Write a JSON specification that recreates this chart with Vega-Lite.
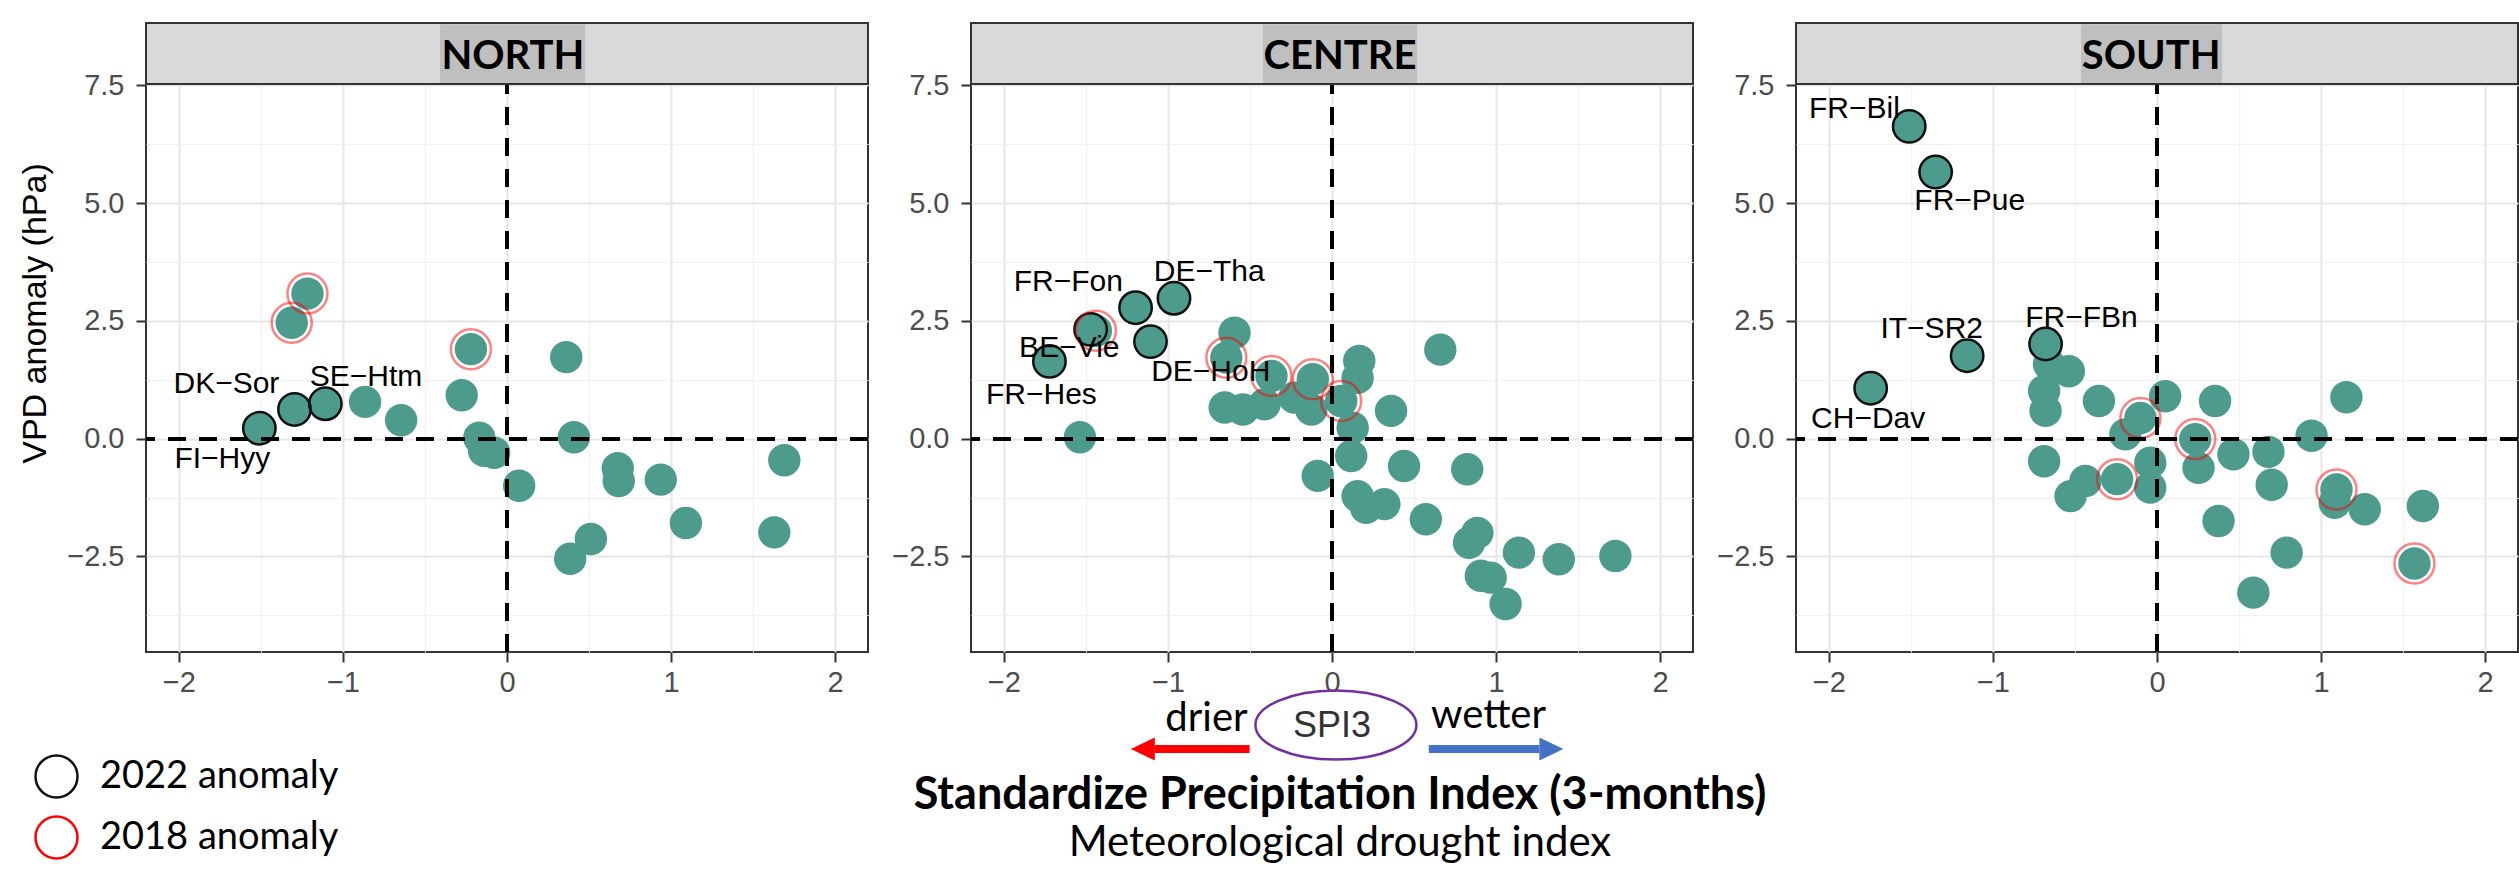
{
  "$schema": "https://vega.github.io/schema/vega-lite/v6.json",
  "background": "white",
  "padding": {"left": 17, "top": 21, "right": 0, "bottom": 0},
  "config": {
    "font": "Liberation Sans",
    "view": {"stroke": "#333333", "strokeWidth": 2},
    "axis": {
      "labelFont": "Liberation Sans",
      "labelFontSize": 29,
      "labelColor": "#4d4d4d",
      "tickColor": "#333333",
      "tickWidth": 2,
      "tickSize": 10,
      "domain": false,
      "gridColor": "#e6e6e6",
      "gridWidth": 2,
      "titleFont": "Liberation Sans",
      "titleFontSize": 34,
      "titleFontWeight": "normal",
      "titleColor": "#000000"
    },
    "axisX": {"labelPadding": 6},
    "axisY": {"labelPadding": 12},
    "legend": {
      "labelFont": "Lato",
      "labelFontSize": 38,
      "labelColor": "#000000",
      "labelLimit": 600,
      "symbolSize": 1764,
      "symbolStrokeWidth": 2.5,
      "symbolType": "circle",
      "symbolOpacity": 1,
      "labelOffset": 21,
      "rowPadding": 8,
      "padding": 0
    }
  },
  "datasets": {
    "regions": [
      {"region": "NORTH"},
      {"region": "CENTRE"},
      {"region": "SOUTH"}
    ],
    "sites": [
      {"region": "NORTH", "spi": -1.509, "vpd": 0.22, "highlight": "2022 anomaly", "site": "FI−Hyy", "label_spi": -1.735, "label_vpd": -0.43},
      {"region": "NORTH", "spi": -1.295, "vpd": 0.62, "highlight": "2022 anomaly", "site": "DK−Sor", "label_spi": -1.71, "label_vpd": 1.15},
      {"region": "NORTH", "spi": -1.107, "vpd": 0.74, "highlight": "2022 anomaly", "site": "SE−Htm", "label_spi": -0.859, "label_vpd": 1.3},
      {"region": "NORTH", "spi": -1.216, "vpd": 3.08, "highlight": "2018 anomaly"},
      {"region": "NORTH", "spi": -1.312, "vpd": 2.46, "highlight": "2018 anomaly"},
      {"region": "NORTH", "spi": -0.22, "vpd": 1.9, "highlight": "2018 anomaly"},
      {"region": "NORTH", "spi": -0.865, "vpd": 0.78},
      {"region": "NORTH", "spi": -0.645, "vpd": 0.39},
      {"region": "NORTH", "spi": -0.276, "vpd": 0.92},
      {"region": "NORTH", "spi": -0.169, "vpd": 0.02},
      {"region": "NORTH", "spi": -0.139, "vpd": -0.26},
      {"region": "NORTH", "spi": -0.078, "vpd": -0.3},
      {"region": "NORTH", "spi": 0.074, "vpd": -1.0},
      {"region": "NORTH", "spi": 0.361, "vpd": 1.73},
      {"region": "NORTH", "spi": 0.408, "vpd": 0.03},
      {"region": "NORTH", "spi": 0.385, "vpd": -2.55},
      {"region": "NORTH", "spi": 0.511, "vpd": -2.13},
      {"region": "NORTH", "spi": 0.675, "vpd": -0.63},
      {"region": "NORTH", "spi": 0.681, "vpd": -0.9},
      {"region": "NORTH", "spi": 0.937, "vpd": -0.87},
      {"region": "NORTH", "spi": 1.09, "vpd": -1.79},
      {"region": "NORTH", "spi": 1.629, "vpd": -1.99},
      {"region": "NORTH", "spi": 1.69, "vpd": -0.46},

      {"region": "CENTRE", "spi": -1.197, "vpd": 2.78, "highlight": "2022 anomaly", "site": "FR−Fon", "label_spi": -1.607, "label_vpd": 3.32},
      {"region": "CENTRE", "spi": -0.963, "vpd": 2.98, "highlight": "2022 anomaly", "site": "DE−Tha", "label_spi": -0.748, "label_vpd": 3.54},
      {"region": "CENTRE", "spi": -1.439, "vpd": 2.29, "highlight": "2018 anomaly"},
      {"region": "CENTRE", "spi": -1.471, "vpd": 2.32, "highlight": "2022 anomaly", "site": "BE−Vie", "label_spi": -1.601, "label_vpd": 1.93},
      {"region": "CENTRE", "spi": -1.106, "vpd": 2.06, "highlight": "2022 anomaly", "site": "DE−HoH", "label_spi": -0.739, "label_vpd": 1.41},
      {"region": "CENTRE", "spi": -1.722, "vpd": 1.64, "highlight": "2022 anomaly", "site": "FR−Hes", "label_spi": -1.771, "label_vpd": 0.93},
      {"region": "CENTRE", "spi": -1.536, "vpd": 0.03},
      {"region": "CENTRE", "spi": -0.594, "vpd": 2.25},
      {"region": "CENTRE", "spi": -0.654, "vpd": 0.66},
      {"region": "CENTRE", "spi": -0.543, "vpd": 0.62},
      {"region": "CENTRE", "spi": -0.411, "vpd": 0.73},
      {"region": "CENTRE", "spi": -0.229, "vpd": 0.87},
      {"region": "CENTRE", "spi": -0.126, "vpd": 0.62},
      {"region": "CENTRE", "spi": -0.644, "vpd": 1.72, "highlight": "2018 anomaly"},
      {"region": "CENTRE", "spi": -0.369, "vpd": 1.33, "highlight": "2018 anomaly"},
      {"region": "CENTRE", "spi": -0.117, "vpd": 1.26, "highlight": "2018 anomaly"},
      {"region": "CENTRE", "spi": 0.166, "vpd": 1.65},
      {"region": "CENTRE", "spi": 0.156, "vpd": 1.29},
      {"region": "CENTRE", "spi": 0.056, "vpd": 0.8, "highlight": "2018 anomaly"},
      {"region": "CENTRE", "spi": 0.36, "vpd": 0.59},
      {"region": "CENTRE", "spi": 0.126, "vpd": 0.23},
      {"region": "CENTRE", "spi": 0.66, "vpd": 1.89},
      {"region": "CENTRE", "spi": 0.117, "vpd": -0.37},
      {"region": "CENTRE", "spi": -0.087, "vpd": -0.79},
      {"region": "CENTRE", "spi": 0.439, "vpd": -0.58},
      {"region": "CENTRE", "spi": 0.824, "vpd": -0.65},
      {"region": "CENTRE", "spi": 0.156, "vpd": -1.22},
      {"region": "CENTRE", "spi": 0.208, "vpd": -1.47},
      {"region": "CENTRE", "spi": 0.319, "vpd": -1.39},
      {"region": "CENTRE", "spi": 0.572, "vpd": -1.71},
      {"region": "CENTRE", "spi": 0.886, "vpd": -2.0},
      {"region": "CENTRE", "spi": 0.835, "vpd": -2.21},
      {"region": "CENTRE", "spi": 1.139, "vpd": -2.42},
      {"region": "CENTRE", "spi": 1.382, "vpd": -2.56},
      {"region": "CENTRE", "spi": 1.727, "vpd": -2.49},
      {"region": "CENTRE", "spi": 0.907, "vpd": -2.91},
      {"region": "CENTRE", "spi": 0.967, "vpd": -2.95},
      {"region": "CENTRE", "spi": 1.058, "vpd": -3.51},

      {"region": "SOUTH", "spi": -1.51, "vpd": 6.63, "highlight": "2022 anomaly", "site": "FR−Bil", "label_spi": -1.844, "label_vpd": 7.0},
      {"region": "SOUTH", "spi": -1.349, "vpd": 5.66, "highlight": "2022 anomaly", "site": "FR−Pue", "label_spi": -1.141, "label_vpd": 5.05},
      {"region": "SOUTH", "spi": -1.157, "vpd": 1.76, "highlight": "2022 anomaly", "site": "IT−SR2", "label_spi": -1.373, "label_vpd": 2.32},
      {"region": "SOUTH", "spi": -1.745, "vpd": 1.07, "highlight": "2022 anomaly", "site": "CH−Dav", "label_spi": -1.76, "label_vpd": 0.42},
      {"region": "SOUTH", "spi": -0.658, "vpd": 1.58},
      {"region": "SOUTH", "spi": -0.537, "vpd": 1.43},
      {"region": "SOUTH", "spi": -0.688, "vpd": 1.01},
      {"region": "SOUTH", "spi": -0.679, "vpd": 0.59},
      {"region": "SOUTH", "spi": -0.679, "vpd": 2.01, "highlight": "2022 anomaly", "site": "FR−FBn", "label_spi": -0.46, "label_vpd": 2.56},
      {"region": "SOUTH", "spi": -0.354, "vpd": 0.8},
      {"region": "SOUTH", "spi": -0.193, "vpd": 0.09},
      {"region": "SOUTH", "spi": -0.101, "vpd": 0.44, "highlight": "2018 anomaly"},
      {"region": "SOUTH", "spi": 0.05, "vpd": 0.9},
      {"region": "SOUTH", "spi": 0.354, "vpd": 0.8},
      {"region": "SOUTH", "spi": 0.253, "vpd": -0.62},
      {"region": "SOUTH", "spi": 0.233, "vpd": -0.01, "highlight": "2018 anomaly"},
      {"region": "SOUTH", "spi": 0.466, "vpd": -0.33},
      {"region": "SOUTH", "spi": 0.679, "vpd": -0.28},
      {"region": "SOUTH", "spi": 0.942, "vpd": 0.06},
      {"region": "SOUTH", "spi": 1.154, "vpd": 0.88},
      {"region": "SOUTH", "spi": -0.688, "vpd": -0.48},
      {"region": "SOUTH", "spi": -0.436, "vpd": -0.9},
      {"region": "SOUTH", "spi": -0.527, "vpd": -1.22},
      {"region": "SOUTH", "spi": -0.041, "vpd": -0.51},
      {"region": "SOUTH", "spi": -0.041, "vpd": -1.04},
      {"region": "SOUTH", "spi": -0.243, "vpd": -0.86, "highlight": "2018 anomaly"},
      {"region": "SOUTH", "spi": 0.375, "vpd": -1.75},
      {"region": "SOUTH", "spi": 0.699, "vpd": -0.98},
      {"region": "SOUTH", "spi": 1.083, "vpd": -1.36},
      {"region": "SOUTH", "spi": 1.094, "vpd": -1.08, "highlight": "2018 anomaly"},
      {"region": "SOUTH", "spi": 1.266, "vpd": -1.5},
      {"region": "SOUTH", "spi": 1.62, "vpd": -1.43},
      {"region": "SOUTH", "spi": 0.79, "vpd": -2.42},
      {"region": "SOUTH", "spi": 1.569, "vpd": -2.65, "highlight": "2018 anomaly"},
      {"region": "SOUTH", "spi": 0.587, "vpd": -3.27}
    ]
  },
  "resolve": {"legend": {"stroke": "independent"}},
  "hconcat": [
    {
      "width": 722, "height": 629,
      "data": {"name": "sites"},
      "transform": [{"filter": "datum.region === 'NORTH'"}],
      "resolve": {"axis": {"x": "independent", "y": "independent"}},
      "layer": [
        {
          "mark": {"type": "point", "shape": "circle", "filled": true, "size": 1050, "color": "#4c9b8d", "opacity": 1, "strokeWidth": 0},
          "encoding": {
            "x": {"field": "spi", "type": "quantitative", "scale": {"domain": [-2.2, 2.2], "nice": false, "zero": false}, "axis": {"values": [-2, -1, 0, 1, 2], "format": "d", "title": null}},
            "y": {"field": "vpd", "type": "quantitative", "scale": {"domain": [-4.53, 8.825], "nice": false, "zero": false}, "axis": {"values": [-2.5, 0, 2.5, 5, 7.5], "format": ".1f", "title": "VPD anomaly (hPa)", "titleX": -111, "titleY": 290, "titleAlign": "center", "titleBaseline": "middle", "titleAngle": -90}}
          }
        },
        {
          "transform": [{"filter": "datum.highlight === '2022 anomaly'"}],
          "mark": {"type": "point", "shape": "circle", "filled": false, "size": 1050, "strokeWidth": 2.5, "opacity": 1},
          "encoding": {
            "x": {"field": "spi", "type": "quantitative", "axis": null},
            "y": {"field": "vpd", "type": "quantitative", "axis": null},
            "stroke": {"field": "highlight", "type": "nominal", "scale": {"domain": ["2022 anomaly", "2018 anomaly"], "range": ["#111111", "#ff0000"]}, "legend": {"title": null, "orient": "none", "legendX": -112, "legendY": 731}}
          }
        },
        {
          "transform": [{"filter": "datum.highlight === '2018 anomaly'"}],
          "mark": {"type": "point", "shape": "circle", "filled": false, "size": 1600, "strokeWidth": 2.5, "strokeOpacity": 0.7},
          "encoding": {
            "x": {"field": "spi", "type": "quantitative", "axis": null},
            "y": {"field": "vpd", "type": "quantitative", "axis": null},
            "stroke": {"field": "highlight", "type": "nominal"}
          }
        },
        {
          "mark": {"type": "rule", "color": "#000000", "strokeWidth": 3, "strokeDash": [18, 13]},
          "encoding": {
            "x": {"datum": 0, "type": "quantitative", "axis": {"values": [-1.5, -0.5, 0.5, 1.5], "grid": true, "gridColor": "#f1f1f1", "gridWidth": 1.2, "labels": false, "ticks": false, "domain": false, "title": null}},
            "y": {"datum": -4.53, "type": "quantitative", "axis": null},
            "y2": {"datum": 7.53}
          }
        },
        {
          "mark": {"type": "rule", "color": "#000000", "strokeWidth": 3, "strokeDash": [18, 13]},
          "encoding": {"y": {"datum": 0, "type": "quantitative", "axis": {"values": [-3.75, -1.25, 1.25, 3.75, 6.25], "grid": true, "gridColor": "#f1f1f1", "gridWidth": 1.2, "labels": false, "ticks": false, "domain": false, "title": null}}}
        },
        {
          "transform": [{"filter": "datum.site != null"}],
          "mark": {"type": "text", "font": "Liberation Sans", "fontSize": 30, "color": "#000000", "align": "center", "baseline": "middle"},
          "encoding": {
            "x": {"field": "label_spi", "type": "quantitative", "axis": null},
            "y": {"field": "label_vpd", "type": "quantitative", "axis": null},
            "text": {"field": "site"}
          }
        },
        {
          "data": {"name": "regions"},
          "transform": [{"filter": "datum.region === 'NORTH'"}],
          "mark": {"type": "rect", "color": "#d9d9d9", "stroke": "#333333", "strokeWidth": 2},
          "encoding": {
            "x": {"datum": -2.2, "type": "quantitative", "axis": null},
            "x2": {"datum": 2.2},
            "y": {"datum": 7.53, "type": "quantitative", "axis": null},
            "y2": {"datum": 8.825}
          }
        },
        {
          "data": {"name": "regions"},
          "transform": [{"filter": "datum.region === 'NORTH'"}],
          "mark": {"type": "rect", "color": "#bfbfbf"},
          "encoding": {
            "x": {"datum": -0.408, "type": "quantitative", "axis": null},
            "x2": {"datum": 0.476},
            "y": {"datum": 7.55, "type": "quantitative", "axis": null},
            "y2": {"datum": 8.8}
          }
        },
        {
          "data": {"name": "regions"},
          "transform": [{"filter": "datum.region === 'NORTH'"}],
          "mark": {"type": "text", "font": "Lato", "fontSize": 40, "fontWeight": "bold", "color": "#000000", "align": "center", "baseline": "middle"},
          "encoding": {
            "x": {"datum": 0.036, "type": "quantitative", "axis": null},
            "y": {"datum": 8.103, "type": "quantitative", "axis": null},
            "text": {"field": "region"}
          }
        }
      ]
    },
    {
      "width": 722, "height": 629,
      "data": {"name": "sites"},
      "transform": [{"filter": "datum.region === 'CENTRE'"}],
      "resolve": {"axis": {"x": "independent", "y": "independent"}},
      "title": {
        "text": "Standardize Precipitation Index (3-months)",
        "subtitle": "Meteorological drought index",
        "orient": "bottom",
        "anchor": "middle",
        "font": "Lato",
        "fontSize": 45,
        "fontWeight": "bold",
        "color": "#000000",
        "subtitleFont": "Lato",
        "subtitleFontSize": 42,
        "subtitleColor": "#000000",
        "subtitlePadding": 5,
        "offset": 8,
        "dx": 8
      },
      "layer": [
        {
          "mark": {"type": "point", "shape": "circle", "filled": true, "size": 1050, "color": "#4c9b8d", "opacity": 1, "strokeWidth": 0},
          "encoding": {
            "x": {"field": "spi", "type": "quantitative", "scale": {"domain": [-2.2, 2.2], "nice": false, "zero": false}, "axis": {"values": [-2, -1, 0, 1, 2], "format": "d", "title": null}},
            "y": {"field": "vpd", "type": "quantitative", "scale": {"domain": [-4.53, 8.825], "nice": false, "zero": false}, "axis": {"values": [-2.5, 0, 2.5, 5, 7.5], "format": ".1f", "title": null}}
          }
        },
        {
          "transform": [{"filter": "datum.highlight === '2022 anomaly'"}],
          "mark": {"type": "point", "shape": "circle", "filled": false, "size": 1050, "strokeWidth": 2.5, "opacity": 1},
          "encoding": {
            "x": {"field": "spi", "type": "quantitative", "axis": null},
            "y": {"field": "vpd", "type": "quantitative", "axis": null},
            "stroke": {"field": "highlight", "type": "nominal", "scale": {"domain": ["2022 anomaly", "2018 anomaly"], "range": ["#111111", "#ff0000"]}, "legend": null}
          }
        },
        {
          "transform": [{"filter": "datum.highlight === '2018 anomaly'"}],
          "mark": {"type": "point", "shape": "circle", "filled": false, "size": 1600, "strokeWidth": 2.5, "strokeOpacity": 0.7},
          "encoding": {
            "x": {"field": "spi", "type": "quantitative", "axis": null},
            "y": {"field": "vpd", "type": "quantitative", "axis": null},
            "stroke": {"field": "highlight", "type": "nominal", "legend": null}
          }
        },
        {
          "mark": {"type": "rule", "color": "#000000", "strokeWidth": 3, "strokeDash": [18, 13]},
          "encoding": {
            "x": {"datum": 0, "type": "quantitative", "axis": {"values": [-1.5, -0.5, 0.5, 1.5], "grid": true, "gridColor": "#f1f1f1", "gridWidth": 1.2, "labels": false, "ticks": false, "domain": false, "title": null}},
            "y": {"datum": -4.53, "type": "quantitative", "axis": null},
            "y2": {"datum": 7.53}
          }
        },
        {
          "mark": {"type": "rule", "color": "#000000", "strokeWidth": 3, "strokeDash": [18, 13]},
          "encoding": {"y": {"datum": 0, "type": "quantitative", "axis": {"values": [-3.75, -1.25, 1.25, 3.75, 6.25], "grid": true, "gridColor": "#f1f1f1", "gridWidth": 1.2, "labels": false, "ticks": false, "domain": false, "title": null}}}
        },
        {
          "transform": [{"filter": "datum.site != null"}],
          "mark": {"type": "text", "font": "Liberation Sans", "fontSize": 30, "color": "#000000", "align": "center", "baseline": "middle"},
          "encoding": {
            "x": {"field": "label_spi", "type": "quantitative", "axis": null},
            "y": {"field": "label_vpd", "type": "quantitative", "axis": null},
            "text": {"field": "site"}
          }
        },
        {
          "data": {"name": "regions"},
          "transform": [{"filter": "datum.region === 'CENTRE'"}],
          "mark": {"type": "rect", "color": "#d9d9d9", "stroke": "#333333", "strokeWidth": 2},
          "encoding": {
            "x": {"datum": -2.2, "type": "quantitative", "axis": null},
            "x2": {"datum": 2.2},
            "y": {"datum": 7.53, "type": "quantitative", "axis": null},
            "y2": {"datum": 8.825}
          }
        },
        {
          "data": {"name": "regions"},
          "transform": [{"filter": "datum.region === 'CENTRE'"}],
          "mark": {"type": "rect", "color": "#bfbfbf"},
          "encoding": {
            "x": {"datum": -0.42, "type": "quantitative", "axis": null},
            "x2": {"datum": 0.518},
            "y": {"datum": 7.55, "type": "quantitative", "axis": null},
            "y2": {"datum": 8.8}
          }
        },
        {
          "data": {"name": "regions"},
          "transform": [{"filter": "datum.region === 'CENTRE'"}],
          "mark": {"type": "text", "font": "Lato", "fontSize": 40, "fontWeight": "bold", "color": "#000000", "align": "center", "baseline": "middle"},
          "encoding": {
            "x": {"datum": 0.049, "type": "quantitative", "axis": null},
            "y": {"datum": 8.103, "type": "quantitative", "axis": null},
            "text": {"field": "region"}
          }
        },
        {
          "data": {"name": "regions"},
          "transform": [{"filter": "datum.region === 'CENTRE'"}],
          "mark": {"type": "text", "font": "Lato", "fontSize": 40, "color": "#000000", "align": "center", "baseline": "alphabetic", "text": "drier"},
          "encoding": {
            "x": {"datum": -0.765, "type": "quantitative", "axis": null},
            "y": {"datum": -6.207, "type": "quantitative", "axis": null}
          }
        },
        {
          "data": {"name": "regions"},
          "transform": [{"filter": "datum.region === 'CENTRE'"}],
          "mark": {"type": "text", "font": "Lato", "fontSize": 40, "color": "#000000", "align": "center", "baseline": "alphabetic", "text": "wetter"},
          "encoding": {
            "x": {"datum": 0.954, "type": "quantitative", "axis": null},
            "y": {"datum": -6.144, "type": "quantitative", "axis": null}
          }
        },
        {
          "data": {"name": "regions"},
          "transform": [{"filter": "datum.region === 'CENTRE'"}],
          "mark": {"type": "point", "shape": "M-1,0C-1,-0.2375,-0.5523,-0.43,0,-0.43C0.5523,-0.43,1,-0.2375,1,0C1,0.2375,0.5523,0.43,0,0.43C-0.5523,0.43,-1,0.2375,-1,0Z", "size": 25921, "filled": false, "color": "#7030a0", "strokeWidth": 2.5, "opacity": 1},
          "encoding": {
            "x": {"datum": 0.024, "type": "quantitative", "axis": null},
            "y": {"datum": -6.08, "type": "quantitative", "axis": null}
          }
        },
        {
          "data": {"name": "regions"},
          "transform": [{"filter": "datum.region === 'CENTRE'"}],
          "mark": {"type": "text", "font": "Liberation Sans", "fontSize": 36, "color": "#333333", "align": "center", "baseline": "middle", "text": "SPI3"},
          "encoding": {
            "x": {"datum": 0, "type": "quantitative", "axis": null},
            "y": {"datum": -6.101, "type": "quantitative", "axis": null}
          }
        },
        {
          "data": {"name": "regions"},
          "transform": [{"filter": "datum.region === 'CENTRE'"}],
          "mark": {"type": "rule", "color": "#ff0000", "strokeWidth": 8},
          "encoding": {
            "x": {"datum": -0.502, "type": "quantitative", "axis": null},
            "x2": {"datum": -1.08},
            "y": {"datum": -6.59, "type": "quantitative", "axis": null}
          }
        },
        {
          "data": {"name": "regions"},
          "transform": [{"filter": "datum.region === 'CENTRE'"}],
          "mark": {"type": "point", "shape": "M-1,0L1,-0.96L1,0.96Z", "size": 576, "filled": true, "color": "#ff0000", "opacity": 1, "strokeWidth": 0},
          "encoding": {
            "x": {"datum": -1.153, "type": "quantitative", "axis": null},
            "y": {"datum": -6.59, "type": "quantitative", "axis": null}
          }
        },
        {
          "data": {"name": "regions"},
          "transform": [{"filter": "datum.region === 'CENTRE'"}],
          "mark": {"type": "rule", "color": "#4472c4", "strokeWidth": 8},
          "encoding": {
            "x": {"datum": 0.59, "type": "quantitative", "axis": null},
            "x2": {"datum": 1.264},
            "y": {"datum": -6.59, "type": "quantitative", "axis": null}
          }
        },
        {
          "data": {"name": "regions"},
          "transform": [{"filter": "datum.region === 'CENTRE'"}],
          "mark": {"type": "point", "shape": "M1,0L-1,-0.96L-1,0.96Z", "size": 576, "filled": true, "color": "#4472c4", "opacity": 1, "strokeWidth": 0},
          "encoding": {
            "x": {"datum": 1.337, "type": "quantitative", "axis": null},
            "y": {"datum": -6.59, "type": "quantitative", "axis": null}
          }
        }
      ]
    },
    {
      "width": 722, "height": 629,
      "data": {"name": "sites"},
      "transform": [{"filter": "datum.region === 'SOUTH'"}],
      "resolve": {"axis": {"x": "independent", "y": "independent"}},
      "layer": [
        {
          "mark": {"type": "point", "shape": "circle", "filled": true, "size": 1050, "color": "#4c9b8d", "opacity": 1, "strokeWidth": 0},
          "encoding": {
            "x": {"field": "spi", "type": "quantitative", "scale": {"domain": [-2.2, 2.2], "nice": false, "zero": false}, "axis": {"values": [-2, -1, 0, 1, 2], "format": "d", "title": null}},
            "y": {"field": "vpd", "type": "quantitative", "scale": {"domain": [-4.53, 8.825], "nice": false, "zero": false}, "axis": {"values": [-2.5, 0, 2.5, 5, 7.5], "format": ".1f", "title": null}}
          }
        },
        {
          "transform": [{"filter": "datum.highlight === '2022 anomaly'"}],
          "mark": {"type": "point", "shape": "circle", "filled": false, "size": 1050, "strokeWidth": 2.5, "opacity": 1},
          "encoding": {
            "x": {"field": "spi", "type": "quantitative", "axis": null},
            "y": {"field": "vpd", "type": "quantitative", "axis": null},
            "stroke": {"field": "highlight", "type": "nominal", "scale": {"domain": ["2022 anomaly", "2018 anomaly"], "range": ["#111111", "#ff0000"]}, "legend": null}
          }
        },
        {
          "transform": [{"filter": "datum.highlight === '2018 anomaly'"}],
          "mark": {"type": "point", "shape": "circle", "filled": false, "size": 1600, "strokeWidth": 2.5, "strokeOpacity": 0.7},
          "encoding": {
            "x": {"field": "spi", "type": "quantitative", "axis": null},
            "y": {"field": "vpd", "type": "quantitative", "axis": null},
            "stroke": {"field": "highlight", "type": "nominal", "legend": null}
          }
        },
        {
          "mark": {"type": "rule", "color": "#000000", "strokeWidth": 3, "strokeDash": [18, 13]},
          "encoding": {
            "x": {"datum": 0, "type": "quantitative", "axis": {"values": [-1.5, -0.5, 0.5, 1.5], "grid": true, "gridColor": "#f1f1f1", "gridWidth": 1.2, "labels": false, "ticks": false, "domain": false, "title": null}},
            "y": {"datum": -4.53, "type": "quantitative", "axis": null},
            "y2": {"datum": 7.53}
          }
        },
        {
          "mark": {"type": "rule", "color": "#000000", "strokeWidth": 3, "strokeDash": [18, 13]},
          "encoding": {"y": {"datum": 0, "type": "quantitative", "axis": {"values": [-3.75, -1.25, 1.25, 3.75, 6.25], "grid": true, "gridColor": "#f1f1f1", "gridWidth": 1.2, "labels": false, "ticks": false, "domain": false, "title": null}}}
        },
        {
          "transform": [{"filter": "datum.site != null"}],
          "mark": {"type": "text", "font": "Liberation Sans", "fontSize": 30, "color": "#000000", "align": "center", "baseline": "middle"},
          "encoding": {
            "x": {"field": "label_spi", "type": "quantitative", "axis": null},
            "y": {"field": "label_vpd", "type": "quantitative", "axis": null},
            "text": {"field": "site"}
          }
        },
        {
          "data": {"name": "regions"},
          "transform": [{"filter": "datum.region === 'SOUTH'"}],
          "mark": {"type": "rect", "color": "#d9d9d9", "stroke": "#333333", "strokeWidth": 2},
          "encoding": {
            "x": {"datum": -2.2, "type": "quantitative", "axis": null},
            "x2": {"datum": 2.2},
            "y": {"datum": 7.53, "type": "quantitative", "axis": null},
            "y2": {"datum": 8.825}
          }
        },
        {
          "data": {"name": "regions"},
          "transform": [{"filter": "datum.region === 'SOUTH'"}],
          "mark": {"type": "rect", "color": "#bfbfbf"},
          "encoding": {
            "x": {"datum": -0.463, "type": "quantitative", "axis": null},
            "x2": {"datum": 0.396},
            "y": {"datum": 7.55, "type": "quantitative", "axis": null},
            "y2": {"datum": 8.8}
          }
        },
        {
          "data": {"name": "regions"},
          "transform": [{"filter": "datum.region === 'SOUTH'"}],
          "mark": {"type": "text", "font": "Lato", "fontSize": 40, "fontWeight": "bold", "color": "#000000", "align": "center", "baseline": "middle"},
          "encoding": {
            "x": {"datum": -0.036, "type": "quantitative", "axis": null},
            "y": {"datum": 8.103, "type": "quantitative", "axis": null},
            "text": {"field": "region"}
          }
        }
      ]
    }
  ],
  "spacing": 103,
  "bounds": "flush"
}
